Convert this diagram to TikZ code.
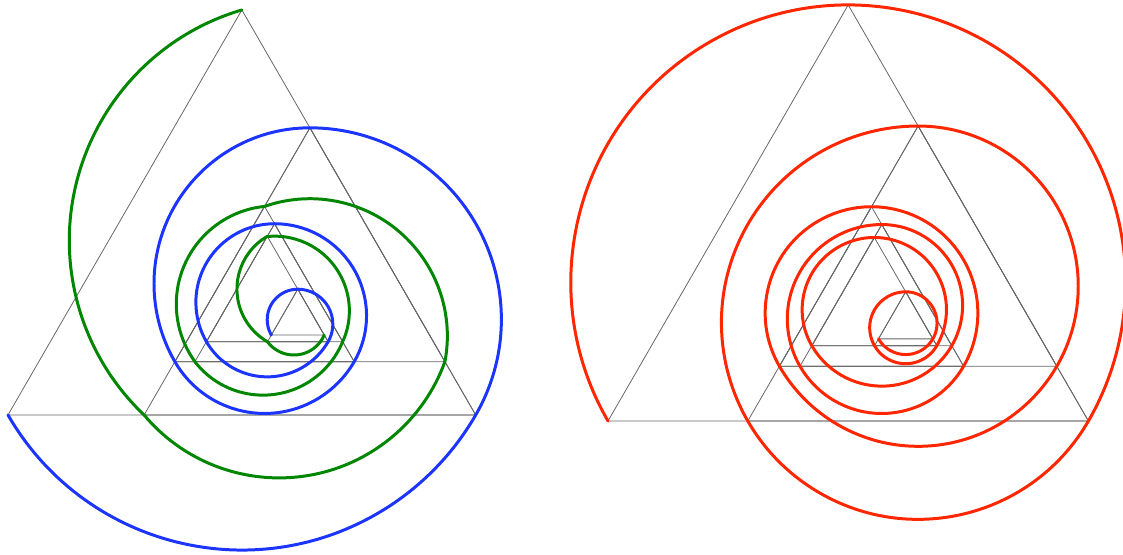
\documentclass[tikz,border=0pt]{standalone}
\usepackage{tikz}
\usetikzlibrary{calc}
\definecolor{spblue}{RGB}{28,52,255}
\definecolor{spgreen}{RGB}{0,134,0}
\definecolor{spred}{RGB}{255,38,0}
\tikzset{
    tri/.style={draw=black!60, line width=0.45pt},
    spir/.style={line width=1.7pt, line cap=round},
}
% nested triangles: x of left corner / y of base / side (big side = 1)
\newcommand{\tridata}{0/0/1, 0.291/0/0.709, 0.3568/0.11397/0.5774,
    0.3568/0.11397/0.3834, 0.3996/0.11397/0.3406, 0.42425/0.156665/0.2913,
    0.42425/0.156665/0.2602, 0.55475/0.156665/0.1297, 0.5630/0.170955/0.1132}
\newcommand{\drawtris}[1]{%
    \foreach \x/\y/\s [count=\i] in \tridata {%
        \coordinate (#1bl\i) at (\x,\y);
        \coordinate (#1br\i) at ({\x+\s},\y);
        \coordinate (#1ap\i) at ({\x+\s/2},{\y+0.866025*\s});
        \draw[tri] (#1bl\i) -- (#1br\i) -- (#1ap\i) -- cycle;
    }%
}

\begin{document}
\begin{tikzpicture}
    \useasboundingbox (0,0) rectangle (22.46,11.08);
    % left: blue and green spirals
    \begin{scope}[shift={(0.16cm,2.78cm)}, x=9.354cm, y=9.354cm]
        \drawtris{L}
        \draw[spir, spblue] (Lbl1) \foreach \x/\y/\s [count=\i, evaluate=\i as \a using 90+120*\i,
            evaluate=\s as \r using \s*0.57735] in \tridata {arc[start angle=\a, delta angle=120, radius=\r]};
        \foreach \u/\v in {Lap1/Lbl2, Lbl2/Lbr3, Lbr3/Lap4, Lap4/Lbl5, Lbl5/Lbr6, Lbr6/Lap7, Lap7/Lbl8, Lbl8/Lbr9}
            \draw[spir, spgreen] let \p1=($(\v)-(\u)$), \n1={atan2(\y1,\x1)}, \n2={veclen(\x1,\y1)/sqrt(3)}
                in (\u) arc[start angle={\n1-150}, delta angle=120, radius=\n2];
    \end{scope}
    % right: red spiral
    \begin{scope}[shift={(12.16cm,2.66cm)}, x=9.608cm, y=9.608cm]
        \drawtris{R}
        \draw[spir, spred] (Rbl1) \foreach \x/\y/\s [count=\i, evaluate=\i as \a using 90+120*\i,
            evaluate=\s as \r using \s*0.57735] in \tridata {arc[start angle=\a, delta angle=-240, radius=\r]};
    \end{scope}
\end{tikzpicture}
\end{document}
